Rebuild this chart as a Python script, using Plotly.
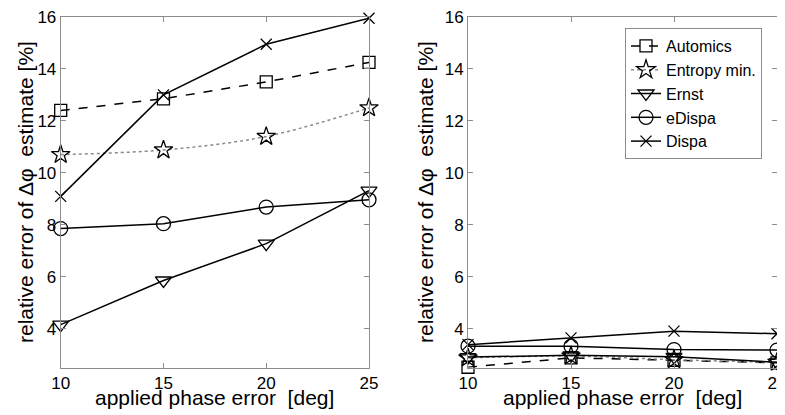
import plotly.graph_objects as go

# ---------------- data ----------------
x_deg = [10, 15, 20, 25]
series_names = ["Automics", "Entropy min.", "Ernst", "eDispa", "Dispa"]

left_automics = [12.4, 12.85, 13.5, 14.25]
left_entropy = [10.7, 10.88, 11.4, 12.5]
left_ernst = [4.15, 5.85, 7.27, 9.31]
left_edispa = [7.85, 8.04, 8.68, 8.96]
left_dispa = [9.09, 13.0, 14.95, 15.95]

right_automics = [2.51, 2.87, 2.78, 2.68]
right_entropy = [2.87, 2.94, 2.80, 2.70]
right_ernst = [2.90, 2.97, 2.91, 2.70]
right_edispa = [3.32, 3.32, 3.19, 3.17]
right_dispa = [3.38, 3.64, 3.90, 3.80]

x_ticks = [10, 15, 20, 25]
y_ticks = [4, 6, 8, 10, 12, 14, 16]
y_title = "relative error of \u0394\u03c6  estimate [%]"
x_title = "applied phase error  [deg]"

# ---------------- styles ----------------
styles = {
    "Automics": dict(dash="dash", color="black", symbol="square-open", size=12, shape="linear"),
    "Entropy min.": dict(dash="dot", color="#8a8a8a", symbol="star-open", size=14, shape="spline"),
    "Ernst": dict(dash="solid", color="black", symbol="triangle-down-open", size=14, shape="linear"),
    "eDispa": dict(dash="solid", color="black", symbol="circle-open", size=14, shape="linear"),
    "Dispa": dict(dash="solid", color="black", symbol="x-thin-open", size=11, shape="linear"),
}

left_data = [left_automics, left_entropy, left_ernst, left_edispa, left_dispa]
right_data = [right_automics, right_entropy, right_ernst, right_edispa, right_dispa]

FONT = "Liberation Sans, Arial, Helvetica, sans-serif"

fig = go.Figure()

for panel, data in (("1", left_data), ("2", right_data)):
    for name, vals in zip(series_names, data):
        st = styles[name]
        fig.add_trace(go.Scatter(
            x=x_deg, y=vals, name=name,
            mode="lines+markers",
            line=dict(color=st["color"], width=1.5, dash=st["dash"], shape=st["shape"]),
            marker=dict(symbol=st["symbol"], size=st["size"], color="black",
                        line=dict(color="black", width=1.3)),
            cliponaxis=False,
            showlegend=(panel == "2"),
            xaxis="x" if panel == "1" else "x2",
            yaxis="y" if panel == "1" else "y2",
        ))

# page body adds an 8px offset; figure is sized so that it fits the window
OFF = 8
W, H = 785 - OFF, 415 - OFF


def px(v):
    return (v - OFF) / W


def py(v):
    return 1 - (v - OFF) / H


ax_common = dict(
    showline=True, linecolor="#8c8c8c", linewidth=1, mirror="allticks",
    ticks="inside", ticklen=5, tickcolor="#8c8c8c", tickwidth=1,
    showgrid=False, zeroline=False, automargin=False,
    ticklabeloverflow="allow",
    tickfont=dict(family=FONT, size=17, color="black"),
)
ydom = [py(367.5), py(17)]

fig.update_layout(
    width=W, height=H,
    margin=dict(l=0, r=0, t=0, b=0, pad=0, autoexpand=False),
    paper_bgcolor="white", plot_bgcolor="white",
    font=dict(family=FONT, color="black"),
    xaxis=dict(domain=[px(60.7), px(369)], range=[10, 25], tickvals=x_ticks, **ax_common),
    yaxis=dict(domain=ydom, range=[2.5, 16], tickvals=y_ticks, **ax_common),
    xaxis2=dict(domain=[px(468), min(1.0, px(777))], range=[10, 25], tickvals=x_ticks, anchor="y2", **ax_common),
    yaxis2=dict(domain=ydom, range=[2.5, 16], tickvals=y_ticks, anchor="x2", **ax_common),
    legend=dict(
        x=px(625), y=py(28), xanchor="left", yanchor="top",
        bgcolor="white", bordercolor="#8c8c8c", borderwidth=1,
        font=dict(family=FONT, size=16, color="black"),
        tracegroupgap=0, itemwidth=30,
    ),
    showlegend=True,
)

annotations = [
    dict(text=y_title, x=26, y=192, textangle=-90),
    dict(text=y_title, x=426, y=192, textangle=-90),
    dict(text=x_title, x=214, y=397, textangle=0),
    dict(text=x_title, x=622, y=397, textangle=0),
]
for a in annotations:
    fig.add_annotation(
        text=a["text"], x=px(a["x"]), y=py(a["y"]), xref="paper", yref="paper",
        xanchor="center", yanchor="middle", textangle=a["textangle"],
        showarrow=False, font=dict(family=FONT, size=21, color="black"),
    )

fig.write_html("out.html")
